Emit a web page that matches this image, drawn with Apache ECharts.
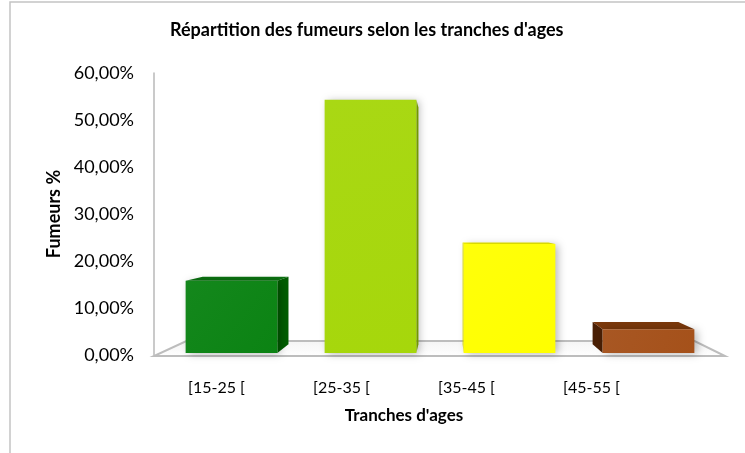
<!DOCTYPE html>
<html>
<head>
<meta charset="utf-8">
<script src="https://cdn.jsdelivr.net/npm/echarts@6/dist/echarts.min.js"></script>
<style>
  html, body { margin: 0; padding: 0; background: #fff; }
  #chart { width: 745px; height: 453px; }
</style>
</head>
<body>
<div id="chart"></div>
<script>
// données
var tranches = ['[15-25 [', '[25-35 [', '[35-45 [', '[45-55 ['];
var fumeurs = [15.8, 54.3, 23.6, 5.5];
var yTicks = [0, 10, 20, 30, 40, 50, 60];

// couleurs : face avant, côté, dessus
var couleurs = [
    ['#0b8313', '#005c00', '#0a7010'],
    ['#a6d70b', '#8ab800', '#b4e020'],
    ['#ffff00', '#d6d600', '#f0f000'],
    ['#a5511a', '#4a1f04', '#7a380b']
];

var FONT = 'Lato';
var myChart = echarts.init(document.getElementById('chart'));

// barre "3D" : face avant + côté + dessus, vers un point de fuite
function renderBar(params, api) {
    var cs = params.coordSys;
    var i = params.dataIndex;
    var base = api.coord([i, 0]);
    var top = api.coord([i, api.value(1)]);
    var w = api.size([1, 0])[0] * 0.66;
    var x0 = base[0] - w / 2, x1 = base[0] + w / 2;
    var yb = base[1] - 2, yt = top[1];
    var vx = cs.x + cs.width * 0.515;
    var vy = cs.y + cs.height * 0.52;
    var k = 0.065;
    function back(p) { return [p[0] + (vx - p[0]) * k, p[1] + (vy - p[1]) * k]; }
    var c = couleurs[i];
    var children = [];
    if (back([x1, yt])[1] < yt) {
        children.push({
            type: 'polygon',
            shape: { points: [[x0, yt], [x1, yt], back([x1, yt]), back([x0, yt])] },
            style: { fill: c[2] }
        });
    }
    if (vx > x1) {
        children.push({
            type: 'polygon',
            shape: { points: [[x1, yt], [x1, yb], back([x1, yb]), back([x1, yt])] },
            style: { fill: c[1] }
        });
    } else if (vx < x0) {
        children.push({
            type: 'polygon',
            shape: { points: [[x0, yt], [x0, yb], back([x0, yb]), back([x0, yt])] },
            style: { fill: c[1] }
        });
    }
    children.push({
        type: 'rect',
        shape: { x: x0, y: yt, width: w, height: yb - yt },
        style: {
            fill: new echarts.graphic.LinearGradient(0, 0, 1, 1, [
                { offset: 0, color: echarts.color.lift(c[0], 0.04) },
                { offset: 1, color: c[0] }
            ]),
            shadowColor: 'rgba(0,0,0,0.28)',
            shadowBlur: 8,
            shadowOffsetX: 3,
            shadowOffsetY: 1
        }
    });
    return { type: 'group', children: children };
}

// plancher en perspective
function renderFloor(params, api) {
    var cs = params.coordSys;
    var base = api.coord([0, 0]);
    var yf = base[1] + 1;
    var xl = cs.x - 8, xr = cs.x + cs.width + 7;
    var vx = cs.x + cs.width * 0.515;
    var vy = cs.y + cs.height * 0.52;
    var k = 0.11;
    function back(p) { return [p[0] + (vx - p[0]) * k, p[1] + (vy - p[1]) * k]; }
    return {
        type: 'polygon',
        shape: { points: [[xl, yf], [xr, yf], back([xr, yf]), back([xl, yf])] },
        style: {
            fill: new echarts.graphic.LinearGradient(0, 0, 0, 1, [
                { offset: 0, color: '#f4f4f4' },
                { offset: 1, color: '#ffffff' }
            ]),
            stroke: '#bdbdbd',
            lineWidth: 2
        }
    };
}

var option = {
    backgroundColor: '#fff',
    animation: false,
    graphic: [{
        type: 'rect',
        shape: { x: 10, y: 2, width: 760, height: 470 },
        style: { fill: 'none', stroke: '#c4c4c4', lineWidth: 1.5 },
        silent: true
    }],
    title: {
        text: "Répartition des fumeurs selon les tranches d'ages",
        left: 165,
        top: 16,
        textStyle: { fontFamily: FONT, fontSize: 18, fontWeight: 'bold', color: '#000' }
    },
    grid: [
        { left: 162, right: 27, top: 73, bottom: 98 },
        { left: 154, right: 91, top: 73, bottom: 98 }
    ],
    xAxis: [
        {
            type: 'category',
            gridIndex: 0,
            data: tranches,
            axisLine: { show: false },
            axisTick: { show: false },
            axisLabel: { show: false }
        },
        {
            type: 'category',
            gridIndex: 1,
            data: tranches,
            axisLine: { show: false },
            axisTick: { show: false },
            axisLabel: {
                margin: 25,
                fontFamily: FONT, fontSize: 16, color: '#000'
            },
            name: "Tranches d'ages",
            nameLocation: 'middle',
            nameGap: 52,
            nameTextStyle: { fontFamily: FONT, fontSize: 17, fontWeight: 'bold', color: '#000' }
        }
    ],
    yAxis: [
        {
            type: 'value',
            gridIndex: 0,
            min: yTicks[0],
            max: yTicks[yTicks.length - 1],
            interval: 10,
            offset: 8,
            axisLine: { show: true, lineStyle: { color: '#b8b8b8', width: 1.5 } },
            axisTick: { show: false },
            splitLine: { show: false },
            axisLabel: {
                margin: 20,
                fontFamily: FONT, fontSize: 18, color: '#000',
                formatter: function (v) { return v.toFixed(2).replace('.', ',') + '%'; }
            },
            name: 'Fumeurs %',
            nameLocation: 'middle',
            nameGap: 90,
            nameTextStyle: { fontFamily: FONT, fontSize: 18, fontWeight: 'bold', color: '#000' }
        },
        {
            type: 'value',
            gridIndex: 1,
            show: false
        }
    ],
    series: [
        {
            name: 'plancher',
            type: 'custom',
            xAxisIndex: 0,
            yAxisIndex: 0,
            z: 1,
            silent: true,
            renderItem: renderFloor,
            data: [[0, 0]]
        },
        {
            name: 'Fumeurs %',
            type: 'custom',
            xAxisIndex: 0,
            yAxisIndex: 0,
            z: 2,
            renderItem: renderBar,
            encode: { x: 0, y: 1 },
            data: fumeurs.map(function (v, i) { return [i, v]; })
        }
    ]
};

myChart.setOption(option);
</script>
</body>
</html>
